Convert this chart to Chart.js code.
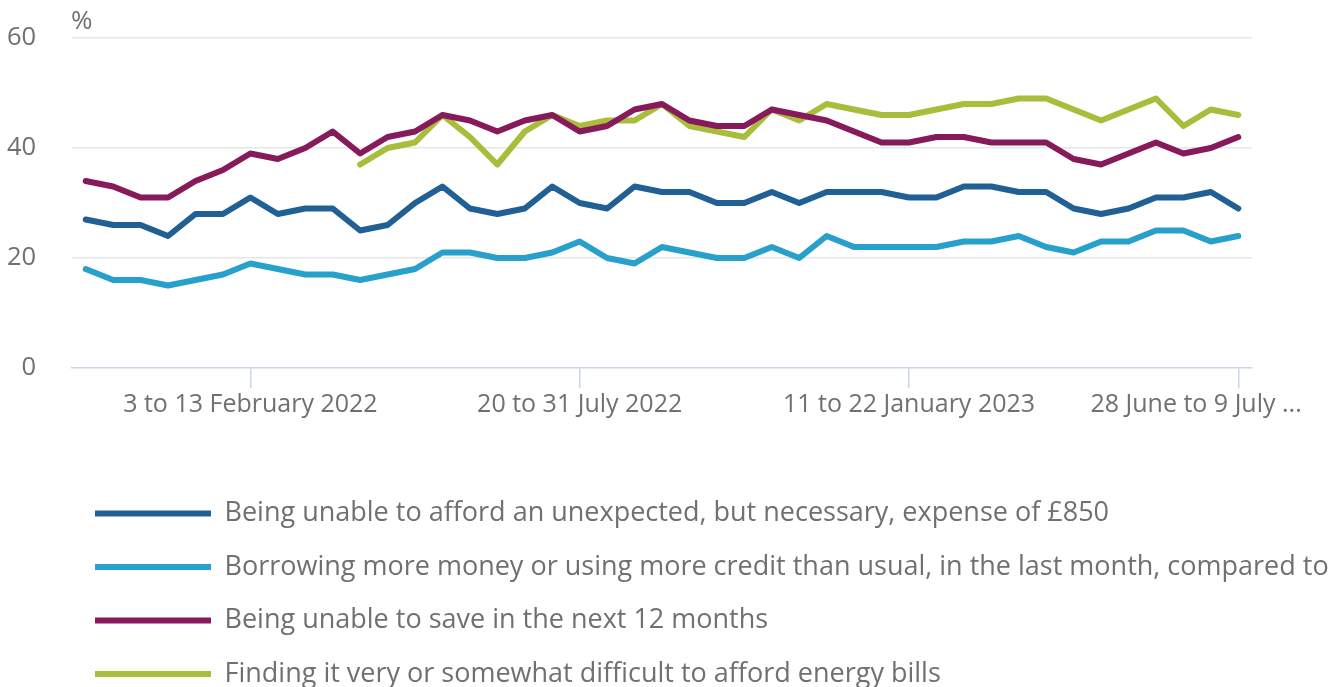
<!doctype html>
<html lang="en">
<head>
  <meta charset="utf-8">
  <title>Cost of living indicators</title>
  <script src="https://cdn.jsdelivr.net/npm/chart.js"></script>
  <style>
    html, body { margin: 0; padding: 0; background: #fff; }
    #wrap { width: 1342px; height: 687px; }
  </style>
</head>
<body>

<div id="wrap">
  <canvas id="myChart" width="1342" height="687"></canvas>
</div>

<script>
  // survey periods (only every 12th one gets a label on the axis)
  const periods = [
    '3 to 14 November 2021', '17 to 28 November 2021', '1 to 12 December 2021',
    '16 December 2021 to 3 January 2022', '12 to 16 January 2022', '19 to 30 January 2022',
    '3 to 13 February 2022', '16 to 27 February 2022', '2 to 13 March 2022',
    '16 to 27 March 2022', '30 March to 10 April 2022', '13 to 24 April 2022',
    '27 April to 8 May 2022', '11 to 22 May 2022', '25 May to 5 June 2022',
    '8 to 19 June 2022', '22 June to 4 July 2022', '6 to 17 July 2022',
    '20 to 31 July 2022', '3 to 14 August 2022', '17 to 29 August 2022',
    '31 August to 11 September 2022', '14 to 25 September 2022', '28 September to 9 October 2022',
    '12 to 23 October 2022', '26 October to 6 November 2022', '9 to 20 November 2022',
    '23 November to 4 December 2022', '7 to 18 December 2022', '21 December 2022 to 8 January 2023',
    '11 to 22 January 2023', '25 January to 5 February 2023', '8 to 19 February 2023',
    '22 February to 5 March 2023', '8 to 19 March 2023', '22 March to 3 April 2023',
    '5 to 16 April 2023', '19 to 30 April 2023', '3 to 14 May 2023',
    '17 to 29 May 2023', '31 May to 11 June 2023', '14 to 25 June 2023',
    '28 June to 9 July 2023'
  ];

  const unexpectedExpense = [27, 26, 26, 24, 28, 28, 31, 28, 29, 29, 25, 26, 30,
    33, 29, 28, 29, 33, 30, 29, 33, 32, 32, 30, 30,
    32, 30, 32, 32, 32, 31, 31, 33, 33, 32, 32,
    29, 28, 29, 31, 31, 32, 29];

  const borrowingMore = [18, 16, 16, 15, 16, 17, 19, 18, 17, 17, 16, 17, 18,
    21, 21, 20, 20, 21, 23, 20, 19, 22, 21, 20, 20,
    22, 20, 24, 22, 22, 22, 22, 23, 23, 24, 22,
    21, 23, 23, 25, 25, 23, 24];

  const unableToSave = [34, 33, 31, 31, 34, 36, 39, 38, 40, 43, 39, 42, 43,
    46, 45, 43, 45, 46, 43, 44, 47, 48, 45, 44, 44,
    47, 46, 45, 43, 41, 41, 42, 42, 41, 41, 41,
    38, 37, 39, 41, 39, 40, 42];

  // energy bills question only started in the 11th period
  const energyBills = [null, null, null, null, null, null, null, null, null, null,
    37, 40, 41, 46, 42, 37, 43, 46, 44, 45, 45, 48, 44, 43, 42,
    47, 45, 48, 47, 46, 46, 47, 48, 48, 49, 49,
    47, 45, 47, 49, 44, 47, 46];

  const seriesNames = [
    'Being unable to afford an unexpected, but necessary, expense of £850',
    'Borrowing more money or using more credit than usual, in the last month, compared to a year ago',
    'Being unable to save in the next 12 months',
    'Finding it very or somewhat difficult to afford energy bills'
  ];
  const seriesColors = ['#206095', '#27a0cc', '#871a5b', '#a8bd3a'];

  const textGrey = '#707070';
  const axisColor = '#ccd6eb';
  const gridColor = '#e6e6e6';

  Chart.defaults.font.family = '"Open Sans", sans-serif';
  Chart.defaults.font.size = 25;
  Chart.defaults.color = textGrey;

  function makeSet(i, values) {
    return {
      label: seriesNames[i],
      data: values,
      borderColor: seriesColors[i],
      backgroundColor: seriesColors[i],
      borderWidth: 6,
      borderJoinStyle: 'round',
      borderCapStyle: 'round',
      pointRadius: 0,
      pointHoverRadius: 0,
      tension: 0,
      fill: false
    };
  }

  // little "%" unit label above the value axis
  const unitLabel = {
    id: 'unitLabel',
    afterDraw(chart) {
      const ctx = chart.ctx;
      ctx.save();
      ctx.font = '26px "Open Sans", sans-serif';
      ctx.fillStyle = textGrey;
      ctx.textBaseline = 'middle';
      ctx.fillText('%', chart.chartArea.left - 1, 22);
      ctx.restore();
    }
  };

  const labelEvery = 12;
  const labelStart = 6;

  var mainConfig = {
    type: 'line',
    data: {
      labels: periods,
      datasets: [
        makeSet(0, unexpectedExpense),
        makeSet(1, borrowingMore),
        makeSet(2, unableToSave),
        makeSet(3, energyBills)
      ]
    },
    plugins: [unitLabel],
    options: {
      responsive: false,
      animation: false,
      layout: {
        padding: { left: 68.5, right: 12, top: 38, bottom: -10.5 }
      },
      scales: {
        x: {
          offset: true,
          border: { display: true, color: axisColor, width: 1.5 },
          grid: {
            offset: false,
            drawOnChartArea: false,
            drawTicks: true,
            tickLength: 20,
            lineWidth: 1.5,
            color: (c) => (c.index % labelEvery === labelStart ? axisColor : 'rgba(0,0,0,0)')
          },
          ticks: {
            autoSkip: false,
            maxRotation: 0,
            padding: 2,
            font: { size: 25 },
            callback: function (value, index) {
              if (index % labelEvery !== labelStart) return '';
              let text = this.getLabelForValue(value);
              if (index === periods.length - 1) {
                // last label is cut short and pulled back inside the plot
                text = text.slice(0, 17) + ' ...' + ' '.repeat(13);
              }
              return text;
            }
          },
          afterFit: (scale) => {
            scale.height = 105.5;
            scale.paddingLeft = 0;
            scale.paddingRight = 0;
          }
        },
        y: {
          min: 0,
          max: 60,
          border: { display: false },
          grid: {
            drawTicks: false,
            lineWidth: 1.5,
            color: (c) => (c.tick && c.tick.value === 0 ? 'rgba(0,0,0,0)' : gridColor)
          },
          ticks: {
            stepSize: 20,
            // mirrored so the labels are not clipped to the narrow axis box,
            // then pushed back out to the left of the plot
            mirror: true,
            crossAlign: 'far',
            padding: -65,
            font: { size: 25.5 }
          },
          afterFit: (scale) => {
            scale.width = 3.5;
            scale.paddingTop = 0;
            scale.paddingBottom = 0;
          }
        },
        // empty axis that only keeps white space right of the plot,
        // so the legend underneath can run wider than the plot
        spacer: {
          type: 'linear',
          position: 'right',
          display: true,
          grid: { display: false },
          border: { display: false },
          ticks: { display: false },
          afterFit: (scale) => {
            scale.width = 78;
            scale.paddingTop = 0;
            scale.paddingBottom = 0;
          }
        }
      },
      plugins: {
        tooltip: { enabled: false },
        legend: {
          position: 'bottom',
          align: 'start',
          labels: {
            boxWidth: 116,
            boxHeight: 6,
            padding: 26.5,
            color: textGrey,
            font: { size: 27 },
            generateLabels: (chart) => {
              const items = Chart.defaults.plugins.legend.labels.generateLabels(chart);
              items.forEach(it => { it.lineWidth = 0; });
              return items;
            }
          }
        }
      }
    }
  };

  window.onload = function () {
    var ctx = document.getElementById('myChart').getContext('2d');
    new Chart(ctx, mainConfig);
  };
</script>
</body>
</html>
